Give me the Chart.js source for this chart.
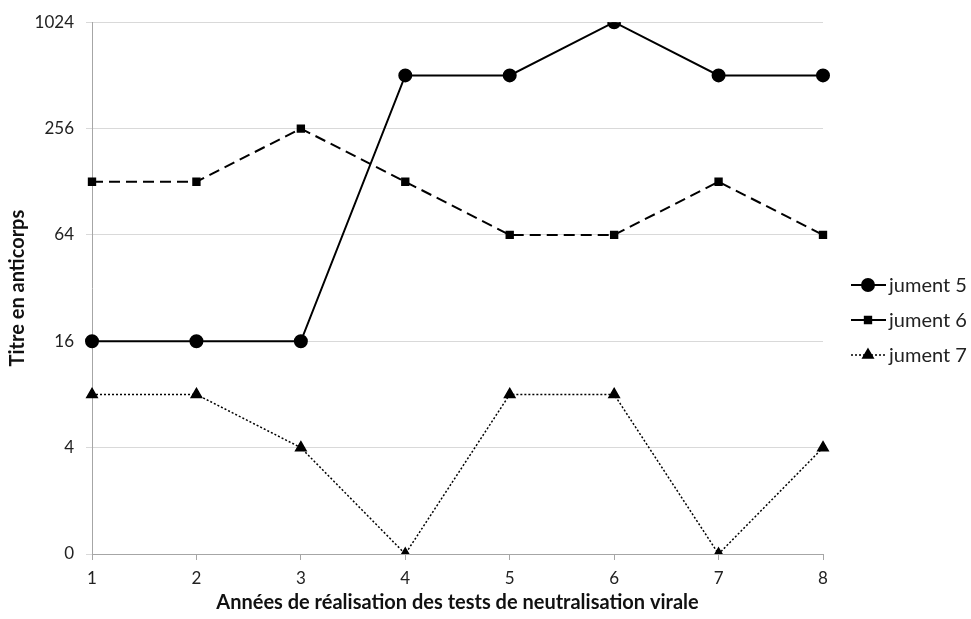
<!DOCTYPE html>
<html>
<head>
<meta charset="utf-8">
<script src="https://cdn.jsdelivr.net/npm/chart.js@4/dist/chart.umd.min.js"></script>
<style>
html,body{margin:0;padding:0;background:#fff;}
#wrap{width:971px;height:619px;position:relative;}
</style>
</head>
<body>
<div id="wrap"><canvas id="c" width="971" height="619"></canvas></div>
<script>
const years = ['1','2','3','4','5','6','7','8'];
const jument5 = [16, 16, 16, 512, 512, 1024, 512, 512];
const jument6 = [128, 128, 256, 128, 64, 64, 128, 64];
const jument7 = [8, 8, 4, 0, 8, 8, 0, 4];
const yTicks = [1, 4, 16, 64, 256, 1024];
const yTickLabels = ['0', '4', '16', '64', '256', '1024'];
const seriesNames = ['jument 5', 'jument 6', 'jument 7'];

// a titre of 0 is drawn on the bottom line of the log scale (value 1)
const toPlot = arr => arr.map(v => v === 0 ? 1 : v);

const FONT = 'Lato, "Open Sans", sans-serif';

const legendPlugin = {
  id: 'sideLegend',
  afterDraw(chart) {
    const ctx = chart.ctx;
    const ys = [285, 320, 355];
    chart.data.datasets.forEach((ds, i) => {
      const y = ys[i];
      ctx.save();
      ctx.strokeStyle = '#000';
      ctx.fillStyle = '#000';
      ctx.lineWidth = i === 2 ? 1.5 : 2;
      ctx.setLineDash(i === 2 ? [2, 2] : []);
      ctx.beginPath();
      ctx.moveTo(851, y);
      ctx.lineTo(886, y);
      ctx.stroke();
      ctx.setLineDash([]);
      Chart.helpers.drawPoint(ctx, {pointStyle: ds.pointStyle, radius: ds.pointRadius, rotation: 0, borderWidth: 1}, 868, y);
      ctx.restore();
      ctx.save();
      ctx.font = '20px ' + FONT;
      ctx.fillStyle = '#222';
      ctx.textBaseline = 'middle';
      ctx.fillText(ds.label, 889, y + 1);
      ctx.restore();
    });
  }
};

const mk = (label, data, opts) => Object.assign({
  label, data: toPlot(data),
  borderColor: '#000', backgroundColor: '#000',
  pointBackgroundColor: '#000', pointBorderColor: '#000',
  fill: false, tension: 0
}, opts);

new Chart(document.getElementById('c'), {
  type: 'line',
  data: {
    labels: years,
    datasets: [
      mk(seriesNames[0], jument5, {borderWidth: 2, pointStyle: 'circle', pointRadius: 6}),
      mk(seriesNames[1], jument6, {borderWidth: 2, borderDash: [11, 6], pointStyle: 'rect', pointRadius: 4.5}),
      mk(seriesNames[2], jument7, {borderWidth: 1.5, borderDash: [2, 2], pointStyle: 'triangle', pointRadius: 6})
    ]
  },
  options: {
    responsive: false,
    animation: false,
    devicePixelRatio: 1,
    layout: {padding: {top: 21, right: 148, left: 0, bottom: 4}},
    plugins: {legend: {display: false}, tooltip: {enabled: false}},
    scales: {
      x: {
        type: 'category',
        offset: false,
        grid: {drawOnChartArea: false, drawTicks: true, tickLength: 6, color: '#a6a6a6'},
        border: {display: true, color: '#a6a6a6', width: 1},
        ticks: {color: '#222', font: {family: FONT, size: 17}, padding: 8, maxRotation: 0},
        title: {display: true, text: 'Années de réalisation des tests de neutralisation virale', color: '#111', font: {family: FONT, size: 20, weight: 'bold'}, padding: {top: 2, bottom: 0}},
        afterFit(s) { s.height = 61; }
      },
      y: {
        type: 'logarithmic',
        min: 1, max: 1024,
        afterBuildTicks(s) { s.ticks = yTicks.map(v => ({value: v})); },
        grid: {color: '#d9d9d9', tickLength: 6, drawTicks: true},
        border: {display: true, color: '#a6a6a6', width: 1},
        ticks: {
          color: '#222', font: {family: FONT, size: 17}, padding: 12,
          callback: (v) => { const i = yTicks.indexOf(v); return i >= 0 ? yTickLabels[i] : ''; }
        },
        title: {display: true, text: 'Titre en anticorps', color: '#111', font: {family: FONT, size: 20, weight: 'bold'}, padding: {top: 6, bottom: 4}},
        afterFit(s) { s.width = 92; }
      }
    }
  },
  plugins: [legendPlugin]
});
</script>
</body>
</html>
